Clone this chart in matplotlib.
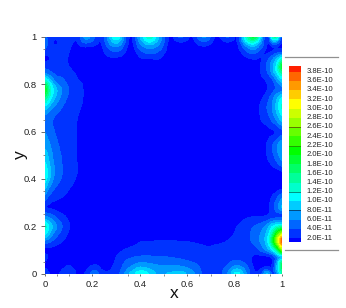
import numpy as np
import matplotlib
matplotlib.use("Agg")
import matplotlib.pyplot as plt
import matplotlib.tri as mtri
from matplotlib.lines import Line2D

plt.rcParams['font.family'] = ['Liberation Sans', 'DejaVu Sans']

# contour levels (units of 1e-11)
levels = [2, 4, 6, 8, 10, 12, 14, 16, 18, 20, 22, 24, 26, 28, 30, 32, 34, 36, 38]
level_labels = ['2.0E-11', '4.0E-11', '6.0E-11', '8.0E-11', '1.0E-10', '1.2E-10', '1.4E-10',
                '1.6E-10', '1.8E-10', '2.0E-10', '2.2E-10', '2.4E-10', '2.6E-10', '2.8E-10',
                '3.0E-10', '3.2E-10', '3.4E-10', '3.6E-10', '3.8E-10']
band_colors = ['#0000ff', '#0033ff', '#0066ff', '#0099ff', '#00ccff', '#00ffff', '#00ffcc', '#00ff99',
               '#00ff66', '#00ff33', '#00ff00', '#33ff00', '#66ff00', '#99ff00', '#ccff00',
               '#ffff00', '#ffcc00', '#ff9900', '#ff6600', '#ff2000']
dark_lines = {'8.0E-11': '#004a80', '1.2E-10': '#009080', '2.2E-10': '#20a000', '2.6E-10': '#607000'}

x_nodes = [0, .02, .04, .07, .10, .13, .17, .21, .234, .25, .30, .35, .365, .40, .44, .48, .53, .57, .62, .67, .72,
           .77, .81, .85, .88, .91, .94, .96, .98, 1]
y_nodes = [1, .98, .96, .94, .91, .88, .85, .82, .78, .74, .70, .65, .60, .54, .48, .42, .36, .32, .28,
           .24, .20, .17, .14, .10, .07, .04, .02, 0]

# field, top row first (units of 1e-11)
field = [
 [4.5,3,2.5,3,4,2.2,7,4,1.9,4.2,12,2.5,1.6,8,13,8,1.5,4.5,1.8,6.5,1.8,4.5,2,13,19,9.5,1.9,14,14,1.8],
 [6,3,1.6,2.6,3.2,1.7,4.8,3.2,1.8,3.6,9,2.2,1.4,6.5,10.5,7,1.2,2.2,1.2,4,1.2,2.2,1.8,10,12.5,7,1.8,7,6,1.6],
 [4.6,2.8,2.1,2.6,2.4,1.2,2.2,1.8,1.3,3,6.3,1.8,1.1,5,7,5.5,1,1,1,1.9,1,1,1.4,6,8,5,1.6,2,2,1.4],
 [3.2,2.7,2.6,2.6,2.1,1.1,1,1,1,2.2,4.2,1.3,1,3.5,5,4,1,1,1,1,1,1,1.1,4,5.5,3,1.5,2.1,3,3],
 [1.5,1.9,2.5,2.5,1.9,1,1,1,1,1.2,1.7,1,1,1.8,2,2.2,1,1,1,1,1,1,1,1.7,2.2,1.9,3.5,5.5,8,12],
 [3,2.9,2.8,2.6,2,1.3,1,1,1,1,1,1,1,1,1,1,1,1,1,1,1,1,1,1,1.2,1.9,4.7,7.5,11,20],
 [5.5,4.5,3.5,3,2.4,1.9,1,1,1,1,1,1,1,1,1,1,1,1,1,1,1,1,1,1,1.1,2,4,7,10.5,15],
 [12,8.5,5.5,4.5,3,2.2,1.5,1,1,1,1,1,1,1,1,1,1,1,1,1,1,1,1,1,1,1.5,2.5,4,7,10],
 [20,13,9.3,6,4,3,1.7,1,1,1,1,1,1,1,1,1,1,1,1,1,1,1,1,1,1,1.1,2,3.2,4.5,5.5],
 [15,11,8,5.3,3.6,2.8,1.7,1,1,1,1,1,1,1,1,1,1,1,1,1,1,1,1,1,1.1,1.7,3.5,5.5,8,11],
 [9,7,5.5,4,3,2.4,1.6,1,1,1,1,1,1,1,1,1,1,1,1,1,1,1,1,1,1.3,2.2,4.3,6,9,12.5],
 [5,4.5,3.7,3.2,2.6,2.1,1.4,1,1,1,1,1,1,1,1,1,1,1,1,1,1,1,1,1,1,2,3,4.5,6.5,9],
 [6,5,4,3.3,2.7,2.1,1.3,1,1,1,1,1,1,1,1,1,1,1,1,1,1,1,1,1,1,1.3,1.4,1.7,2.3,3.5],
 [7.5,6.2,4.8,3.6,2.8,2.1,1.3,1,1,1,1,1,1,1,1,1,1,1,1,1,1,1,1,1,1,1.3,2.3,4,6,8],
 [10,7.5,5.5,4,2.9,2.1,1.3,1,1,1,1,1,1,1,1,1,1,1,1,1,1,1,1,1,1,1,1.9,3,4.5,6.5],
 [12,8.5,5.8,4.1,2.9,2.1,1.3,1,1,1,1,1,1,1,1,1,1,1,1,1,1,1,1,1,1,1,1,1,1,1.2],
 [8.5,5.5,4,3,2.1,1.5,1,1,1,1,1,1,1,1,1,1,1,1,1,1,1,1,1,1,1,1,1,1,1.3,1.5],
 [5,3.2,2.6,2,1.4,1,1,1,1,1,1,1,1,1,1,1,1,1,1,1,1,1,1,1,1,1,1.2,2.4,4,6],
 [1.9,1.7,1.4,1,1,1,1,1,1,1,1,1,1,1,1,1,1,1,1,1,1,1,1,1,1,1,1.6,3,5.5,8.5],
 [6.5,5.5,4.2,2.8,1.6,1,1,1,1,1,1,1,1,1,1,1,1,1,1,1,1,1,1.1,1.8,2,2,2.4,3,3.5,3.5],
 [13,9.5,7,4.2,2.2,1,1,1,1,1,1,1,1,1,1,1,1,1,1,1,1,1,2,3,4,5,7,10,12,13],
 [11,8,5.5,3.4,1.8,1,1,1,1,1,1,1,1,1,1,1,1,1,1,1,1,1.4,2.3,3.4,4.5,6,9,14,22,28],
 [6,4.8,3.6,2.3,1.3,1,1,1,1,1,1,1,1.2,1.8,1.9,1.95,2,1.9,1.8,1.7,1.7,2,2.7,3.5,4.5,6.3,10,18,28,39],
 [1.5,1.4,1.2,1,1,1,1,1,1,1,1.3,2.3,2.5,2.8,3,3,3,2.9,2.5,2.2,2.2,2.4,2.8,3.4,3,4.5,7,10,16,26],
 [3,1.6,1,1,1,1,1,1,1,1,2,3.6,3.8,4.2,4.2,4.1,3.9,3.6,3.1,2.7,2.2,2.5,3.2,2.8,1.7,1.5,1.6,2.5,5.5,8],
 [1.5,1,1,1,1.7,1,1,1.8,1.2,1,2.4,5,5.4,6.5,6.2,5.7,5.6,5.3,4.4,3.2,2.4,3.8,5.5,3.8,1.7,1.6,1.6,2,8,18],
 [2.2,1.4,1,1.7,3,1.6,1.5,3.5,2,1.6,2.7,6,6.8,9,8,6.8,6.8,7,5.5,3.4,2.5,5,8,5,2,1.8,3,2.5,9,17],
 [3,2,1.5,2.5,4,2,2.2,5.5,3.5,2.4,3,7.5,9,11.5,10,7.5,8.5,9,7,3.7,2.6,6,11,6,2.5,3,9,3,6,15],
]

tick_values = [0, 0.2, 0.4, 0.6, 0.8, 1]
tick_labels = ['0', '0.2', '0.4', '0.6', '0.8', '1']
x_minor = [0.05, 0.1, 0.35, 0.5, 0.65, 0.7, 0.9, 0.95]
y_minor = [0.05, 0.25, 0.35, 0.5, 0.65, 0.95]

W, H = 346, 308
fig = plt.figure(figsize=(W / 100, H / 100), dpi=100)
def box(x0, y0, x1, y1):
    return [x0 / W, 1 - y1 / H, (x1 - x0) / W, (y1 - y0) / H]

ax = fig.add_axes(box(45, 37, 282, 273.5))

X, Y = np.meshgrid(np.array(x_nodes), np.array(y_nodes))
Z = np.array(field, dtype=float)
Z[Z <= 1] = 0.7
tri = mtri.Triangulation(X.ravel(), Y.ravel())
interp = mtri.CubicTriInterpolator(tri, Z.ravel(), kind='geom')
xf = np.linspace(0, 1, 400)
yf = np.linspace(0, 1, 400)
XF, YF = np.meshgrid(xf, yf)
ZF = np.ma.filled(interp(XF, YF), 1.0)

# light smoothing of the interpolated surface so contours stay round
def smooth(a, n=7):
    k = np.ones(n) / n
    p = np.pad(a, n // 2, mode='edge')
    p = np.apply_along_axis(lambda r: np.convolve(r, k, mode='same'), 0, p)
    p = np.apply_along_axis(lambda r: np.convolve(r, k, mode='same'), 1, p)
    return p[n // 2:-(n // 2), n // 2:-(n // 2)]
ZF = smooth(ZF)

bounds = [-100] + levels + [1000]
ax.contourf(XF, YF, ZF, levels=bounds, colors=band_colors)
ax.set_xlim(0, 1)
ax.set_ylim(0, 1)
for s in ax.spines.values():
    s.set_visible(False)
ax.set_xticks(tick_values, tick_labels)
ax.set_yticks(tick_values, tick_labels)
ax.set_xticks(x_minor, minor=True)
ax.set_yticks(y_minor, minor=True)
ax.tick_params(which='major', width=0.6, color='#555555', labelsize=6.8, labelcolor='#222222')
ax.tick_params(which='minor', width=0.6, color='#777777', length=1.4)
ax.tick_params(axis='y', which='major', length=2.9, pad=2.9)
ax.tick_params(axis='x', which='major', length=1.4, pad=3.2)
fig.text(174 / W, 1 - 293 / H, 'x', fontsize=12.5, ha='center', va='center', color='#111111')
fig.text(20 / W, 1 - 155 / H, 'y', fontsize=12.5, ha='center', va='center', rotation=90, color='#111111')

# legend
top, bottom = 66.0, 242.0
y_low, y_high = 238.0, 71.5
step = (y_low - y_high) / (len(levels) - 1)
leg = fig.add_axes(box(289, top, 301, bottom))
leg.set_xlim(0, 1)
leg.set_ylim(bottom, top)
leg.axis('off')
edges = [bottom] + [y_low - i * step for i in range(len(levels))] + [top]
for i, c in enumerate(band_colors):
    leg.fill_between([0, 1], edges[i], edges[i + 1], color=c, lw=0)
for i, lab in enumerate(level_labels):
    yy = y_low - i * step
    fig.text(306.7 / W, 1 - yy / H, lab, fontsize=5.5, color='#222222', va='center', ha='left')
    if lab in dark_lines:
        leg.plot([0, 1], [yy, yy], color=dark_lines[lab], lw=0.7)
for yy in (56.7, 250.0):
    fig.add_artist(Line2D([285 / W, 338 / W], [1 - yy / H] * 2, color='#909090', lw=0.9))

fig.savefig('out.png', dpi=100)
